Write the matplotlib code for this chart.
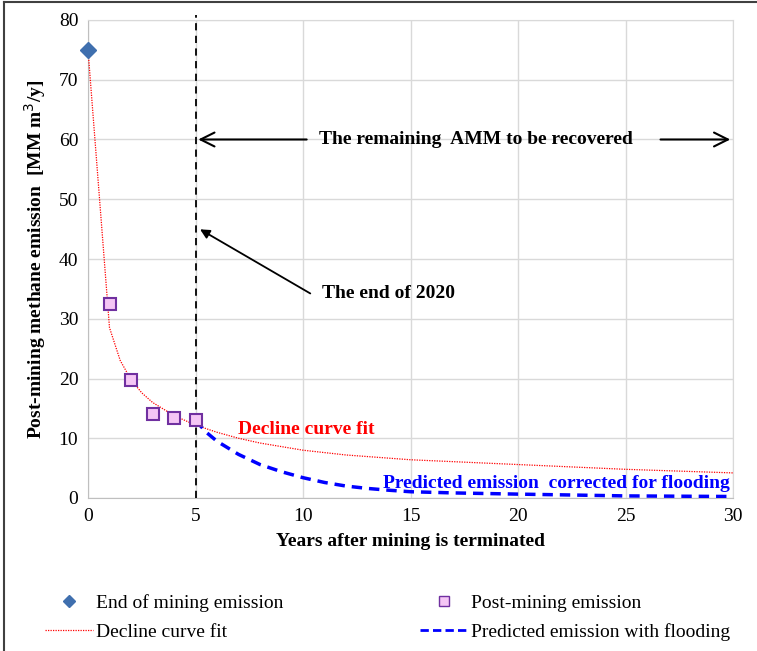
import matplotlib
matplotlib.use("Agg")
import matplotlib.pyplot as plt
from matplotlib.lines import Line2D

plt.rcParams['font.family'] = ['Liberation Serif', 'DejaVu Serif']

# Data
end_x = [0]
end_y = [75]
post_x = [1, 2, 3, 4, 5]
post_y = [32.4, 19.7, 14.0, 13.4, 13.0]
fit_x = [0, 1, 1.5, 2, 2.5, 3, 4, 5, 6, 7, 8, 9, 10, 12, 15, 20, 25, 30]
fit_y = [75, 28.5, 23.0, 19.8, 17.6, 16.0, 13.8, 12.2, 11.0, 10.0, 9.2, 8.6, 8.0, 7.2, 6.4, 5.6, 4.8, 4.2]
flood_x = [5, 5.5, 6, 7, 8, 9, 10, 11, 12, 13, 14, 15, 17, 20, 25, 30]
flood_y = [13.0, 11.0, 9.5, 7.3, 5.6, 4.4, 3.4, 2.6, 2.0, 1.6, 1.3, 1.05, 0.85, 0.65, 0.35, 0.25]
xticks = [0, 5, 10, 15, 20, 25, 30]
yticks = [0, 10, 20, 30, 40, 50, 60, 70, 80]

fig = plt.figure(figsize=(7.57, 6.51), dpi=100)
ax = fig.add_axes([88/757, 153/651, (733-88)/757, (498-20)/651])

ax.set_xlim(0, 30)
ax.set_ylim(0, 80)
ax.set_xticks(xticks)
ax.set_yticks(yticks)
ax.grid(True, color='#d9d9d9', linewidth=1)
ax.set_axisbelow(True)
for s in ax.spines.values():
    s.set_color('#d9d9d9')
ax.spines['left'].set_color('#bfbfbf')
ax.spines['bottom'].set_color('#bfbfbf')
ax.tick_params(length=0, labelsize=14, pad=7)

ax.plot(fit_x, fit_y, color='red', linestyle=(0, (1, 1)), linewidth=0.9, zorder=3)
ax.plot(flood_x, flood_y, color='#0000ff', linestyle=(0, (3, 2)), linewidth=2.5, zorder=3)
ax.plot(end_x, end_y, linestyle='none', marker='D', markersize=8, color='#3f6fae', zorder=5, clip_on=False)
ax.plot(post_x, post_y, linestyle='none', marker='s', markersize=8, markerfacecolor='#f5c6f5',
        markeredgecolor='#7030a0', markeredgewidth=1.5, zorder=5)
ax.axvline(5, ymax=1.01, color='black', linestyle=(0, (4, 3)), linewidth=1.3, zorder=4, clip_on=False)

ax.set_xlabel('Years after mining is terminated', fontsize=14, fontweight='bold', labelpad=6)
ax.set_ylabel('Post-mining methane emission  [MM m$^3$/y]', fontsize=14, fontweight='bold', labelpad=8)

# Annotations
ax.text(10.75, 60, 'The remaining  AMM to be recovered', ha='left', va='center', fontsize=14, fontweight='bold')
ax.annotate('', xy=(5, 60), xytext=(10.3, 60), arrowprops=dict(arrowstyle='->', color='black', lw=1.5, mutation_scale=25))
ax.annotate('', xy=(30, 60), xytext=(26.5, 60), arrowprops=dict(arrowstyle='->', color='black', lw=1.5, mutation_scale=25))
ax.annotate('', xy=(5.1, 45.2), xytext=(10.45, 34.0), arrowprops=dict(arrowstyle='-|>', color='black', lw=1.3, mutation_scale=14))
ax.text(10.9, 34.2, 'The end of 2020', ha='left', va='center', fontsize=14, fontweight='bold')
ax.text(7.0, 11.5, 'Decline curve fit', ha='left', va='center', fontsize=14, fontweight='bold', color='red')
ax.text(13.7, 2.5, 'Predicted emission  corrected for flooding', ha='left', va='center', fontsize=14,
        fontweight='bold', color='#0000ff')

# Legend
handles = [
    Line2D([], [], linestyle='none', marker='D', markersize=6, color='#3f6fae'),
    Line2D([], [], color='red', linestyle=(0, (1, 1)), linewidth=0.9),
    Line2D([], [], linestyle='none', marker='s', markersize=7, markerfacecolor='#f5c6f5',
           markeredgecolor='#7030a0', markeredgewidth=1),
    Line2D([], [], color='#0000ff', linestyle=(0, (3, 1.5)), linewidth=2),
]
labels = ['End of mining emission', 'Decline curve fit', 'Post-mining emission', 'Predicted emission with flooding']
fig.legend(handles, labels, ncol=2, loc='center left', bbox_to_anchor=(27/757, 1 - 617.5/651),
           frameon=False, fontsize=14, handlelength=2.5, handletextpad=0.15, columnspacing=7.0,
           labelspacing=0.6)

# Partial figure frame (left and top edges)
fig.add_artist(Line2D([3.5/757, 3.5/757], [0, 1 - 1.5/651], transform=fig.transFigure, color='#404040', lw=1.5))
fig.add_artist(Line2D([3.5/757, 1], [1 - 1.5/651, 1 - 1.5/651], transform=fig.transFigure, color='#404040', lw=1.5))

fig.savefig('out.png', dpi=100)
